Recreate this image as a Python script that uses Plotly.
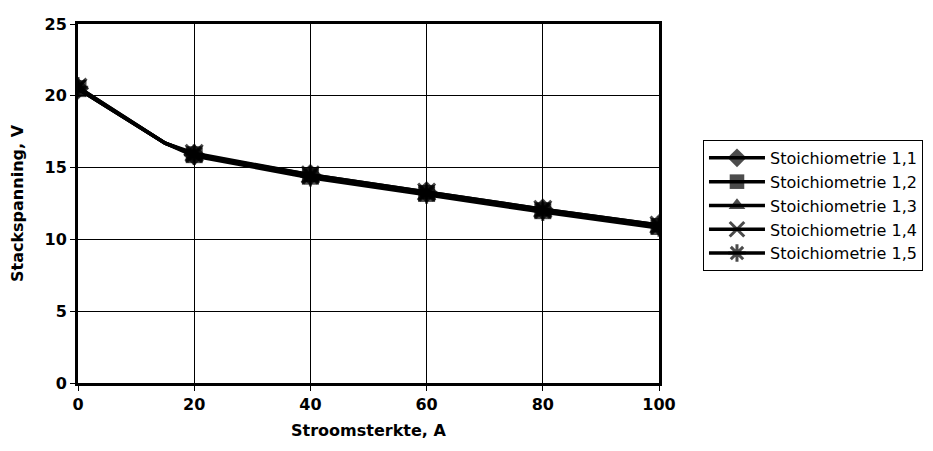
import plotly.graph_objects as go

current = [0, 15, 20, 40, 60, 80, 100]
show_marker = [1, 0, 1, 1, 1, 1, 1]
series_names = ["Stoichiometrie 1,1", "Stoichiometrie 1,2", "Stoichiometrie 1,3",
                "Stoichiometrie 1,4", "Stoichiometrie 1,5"]
v_11 = [20.5, 16.7, 15.9, 14.5, 13.3, 12.1, 11.0]
v_12 = [20.5, 16.7, 15.9, 14.4, 13.2, 12.0, 10.9]
v_13 = [20.5, 16.7, 15.8, 14.3, 13.1, 11.9, 10.8]
v_14 = [20.6, 16.7, 16.0, 14.5, 13.3, 12.1, 11.0]
v_15 = [20.6, 16.7, 15.9, 14.4, 13.2, 12.0, 10.9]
values = [v_11, v_12, v_13, v_14, v_15]
symbols = ["diamond", "square", "triangle-up", "x-thin", "asterisk"]
x_ticks = [0, 20, 40, 60, 80, 100]
y_ticks = [0, 5, 10, 15, 20, 25]
x_title = "Stroomsterkte, A"
y_title = "Stackspanning, V"

fig = go.Figure()
for name, vals, sym in zip(series_names, values, symbols):
    thin = sym in ("x-thin", "asterisk")
    fig.add_trace(go.Scatter(
        x=current, y=vals, name=name, mode="lines+markers",
        line=dict(color="black", width=3.5),
        marker=dict(symbol=sym, size=[17 * s for s in show_marker], color="black",
                    line=dict(color="black", width=3 if thin else 0)),
    ))

font = "DejaVu Sans, Arial, sans-serif"
fig.update_layout(
    width=917, height=435,
    margin=dict(l=70, r=266, t=16, b=60, autoexpand=False),
    paper_bgcolor="white", plot_bgcolor="white",
    font=dict(family=font, color="black", size=16),
    legend=dict(x=1.0757, y=0.677, xanchor="left", yanchor="top",
                bordercolor="black", borderwidth=1, bgcolor="white",
                font=dict(size=16, family=font), tracegroupgap=0,
                itemwidth=56),
    showlegend=True,
)
fig.add_annotation(
    text=f"<b>{x_title}</b>", xref="paper", yref="paper", x=0.5, y=0,
    xanchor="center", yanchor="middle", yshift=-47, showarrow=False,
    font=dict(size=16, family=font, color="black"),
)
fig.update_xaxes(
    range=[0, 100], tickvals=x_ticks, ticks="outside", ticklen=5, tickcolor="black",
    showgrid=True, gridcolor="black", gridwidth=1, automargin=False,
    showline=True, linecolor="black", linewidth=3, mirror=True, zeroline=False,
    tickfont=dict(size=16, family=font, weight="bold"),
)
fig.update_yaxes(
    range=[0, 25], tickvals=y_ticks, ticks="outside", ticklen=5, tickcolor="black",
    showgrid=True, gridcolor="black", gridwidth=1, automargin=False,
    showline=True, linecolor="black", linewidth=3, mirror=True, zeroline=False,
    tickfont=dict(size=16, family=font, weight="bold"),
    title=dict(text=f"<b>{y_title}</b>", font=dict(size=16), standoff=18),
)
fig.write_html("out.html")
